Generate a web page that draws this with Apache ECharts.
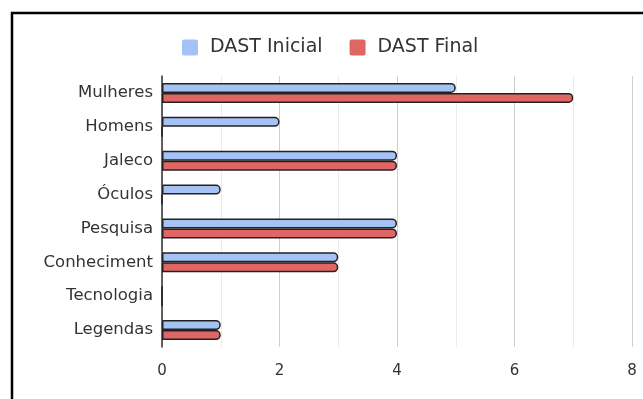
<!DOCTYPE html>
<html>
<head>
<meta charset="utf-8">
<script src="https://cdn.jsdelivr.net/npm/echarts@6/dist/echarts.min.js"></script>
<style>
  html, body { margin: 0; padding: 0; background: #fff; }
  #chart { width: 643px; height: 399px; }
</style>
</head>
<body>
<div id="chart"></div>
<script>
var categories = ['Mulheres', 'Homens', 'Jaleco', 'Óculos', 'Pesquisa', 'Conheciment', 'Tecnologia', 'Legendas'];
var dastInicial = [5, 2, 4, 1, 4, 3, 0, 1];
var dastFinal = [7, 0, 4, 0, 4, 3, 0, 1];
var seriesNames = ['DAST Inicial', 'DAST Final'];
var seriesColors = ['#a4c2f4', '#e06666'];

var myChart = echarts.init(document.getElementById('chart'));

var barStyle = function(color) {
	return {
		color: color,
		borderColor: '#222',
		borderWidth: 1.5,
		borderRadius: [0, 4, 4, 0]
	};
};

var option = {
	animation: false,
	textStyle: { fontFamily: 'DejaVu Sans' },
	graphic: [{
		type: 'rect',
		shape: { x: 12, y: 13, width: 700, height: 500 },
		style: { fill: 'none', stroke: '#000', lineWidth: 2.5 }
	}],
	legend: {
		top: 33,
		left: 177,
		icon: 'path://M2,0 L14,0 Q16,0 16,2 L16,14 Q16,16 14,16 L2,16 Q0,16 0,14 L0,2 Q0,0 2,0 Z',
		itemWidth: 16,
		itemHeight: 16,
		itemGap: 27,
		itemStyle: { borderWidth: 0 },
		textStyle: { fontSize: 19, color: '#333', fontFamily: 'DejaVu Sans', padding: [0, 0, 0, 7] },
		data: seriesNames
	},
	grid: {
		left: 162,
		right: 11,
		top: 76,
		bottom: 52,
		containLabel: false
	},
	xAxis: {
		type: 'value',
		min: 0,
		max: 8,
		interval: 1,
		axisLine: { show: false },
		axisTick: { show: false },
		axisLabel: {
			fontSize: 15,
			color: '#333',
			margin: 17,
			formatter: function(v) { return v % 2 === 0 ? v : ''; }
		},
		splitLine: { lineStyle: { color: ['#cfcfcf', '#ebebeb'], width: 1 } }
	},
	yAxis: {
		type: 'category',
		inverse: true,
		data: categories,
		axisLine: { show: true, lineStyle: { color: '#333', width: 1.5 } },
		axisTick: { show: false },
		axisLabel: { fontSize: 16.5, color: '#333', margin: 9 }
	},
	series: [
		{
			name: seriesNames[0],
			type: 'bar',
			barWidth: 10,
			barGap: '0%',
			itemStyle: barStyle(seriesColors[0]),
			data: dastInicial
		},
		{
			name: seriesNames[1],
			type: 'bar',
			barWidth: 10,
			barGap: '0%',
			itemStyle: barStyle(seriesColors[1]),
			data: dastFinal
		}
	]
};
myChart.setOption(option);
</script>
</body>
</html>
